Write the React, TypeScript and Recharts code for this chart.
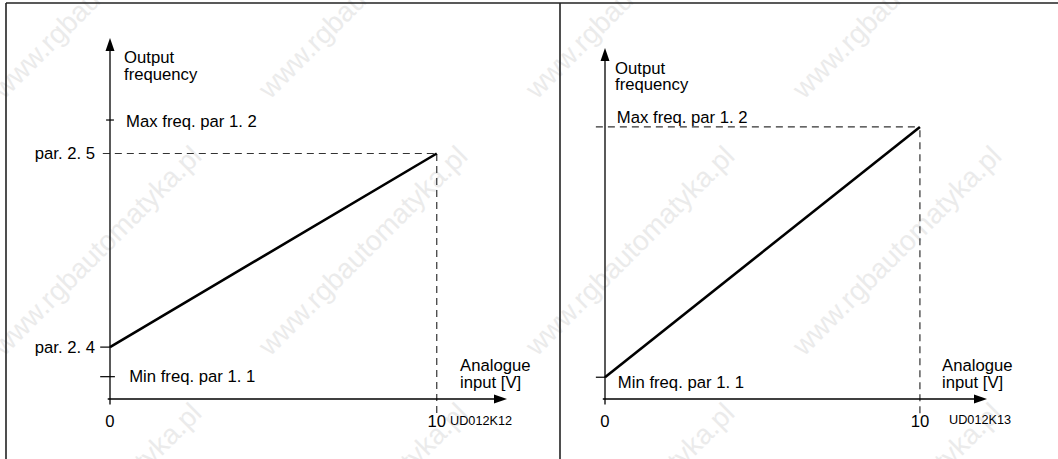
import { LineChart, Line, XAxis, YAxis, ReferenceLine } from 'recharts';

const FONT = '"Liberation Sans", Arial, Helvetica, sans-serif';

// frequency levels (Hz)
const minFreq = 4;
const maxFreq = 50;
const par24 = 9.3;
const par25 = 44;

// analogue input (V)
const inputTicks = [0, 10];
const inputFull = 10;

// left panel: scaled between par 2.4 and par 2.5
const leftLine = [
  { input: 0, freq: par24 },
  { input: inputFull, freq: par25 },
];
const leftFreqTicks = [par24, par25];
const leftFreqLabels = ['par. 2. 4', 'par. 2. 5'];

// right panel: default min..max
const rightLine = [
  { input: 0, freq: minFreq },
  { input: inputFull, freq: maxFreq },
];

const WATERMARK = 'www.rgbautomatyka.pl';
const wmCols = [4, 270, 537, 804];
const wmRows = [100, 357, 614];

const txt = (x: number, y: number, s: string, size = 16.7, anchor: 'start' | 'end' | 'middle' = 'start') => (
  <text
    x={x}
    y={y}
    fontSize={size}
    fontFamily={FONT}
    fill="#000"
    textAnchor={anchor}
    dominantBaseline="central"
  >
    {s}
  </text>
);

// axis line with a filled arrow head at the second end point
const Arrow = (props: any) => {
  const { x1, y1, x2, y2 } = props;
  const a = Math.atan2(y2 - y1, x2 - x1);
  const len = 13;
  const half = 4.5;
  const bx = x2 - len * Math.cos(a);
  const by = y2 - len * Math.sin(a);
  const px = -Math.sin(a) * half;
  const py = Math.cos(a) * half;
  return (
    <g>
      <line x1={x1} y1={y1} x2={bx} y2={by} stroke="#000" strokeWidth={1.3} />
      <polygon points={`${x2},${y2} ${bx + px},${by + py} ${bx - px},${by - py}`} fill="#000" />
    </g>
  );
};

const dash = { stroke: '#333', strokeWidth: 1.2, strokeDasharray: '7 5', ifOverflow: 'visible' as const };
const solid = { stroke: '#000', strokeWidth: 1.2, ifOverflow: 'visible' as const };
const tickStyle = { fill: '#000', fontSize: 16.7, fontFamily: FONT };

function LeftPanel() {
  const xEnd = 12.15;
  const yEnd = 64.7;
  return (
    <LineChart
      width={555}
      height={459}
      data={leftLine}
      margin={{ top: 38, right: 48, left: 0, bottom: 30 }}
    >
      <XAxis
        type="number"
        dataKey="input"
        domain={[0, xEnd]}
        ticks={inputTicks}
        axisLine={false}
        tickLine={false}
        tickMargin={10}
        height={30}
        tick={tickStyle}
      />
      <YAxis
        type="number"
        domain={[0, yEnd]}
        ticks={leftFreqTicks}
        tickFormatter={(v: number) => leftFreqLabels[leftFreqTicks.indexOf(v)] ?? ''}
        axisLine={false}
        tickLine={false}
        tickMargin={9}
        width={110}
        tick={tickStyle}
      />
      <ReferenceLine
        {...dash}
        segment={[{ x: -0.22, y: par25 }, { x: inputFull, y: par25 }]}
      />
      <ReferenceLine
        {...dash}
        segment={[{ x: inputFull, y: -2.5 }, { x: inputFull, y: par25 }]}
      />
      <ReferenceLine
        {...solid}
        segment={[{ x: -0.3, y: par24 }, { x: 0, y: par24 }]}
      />
      <ReferenceLine
        {...solid}
        segment={[{ x: -0.12, y: maxFreq }, { x: 0.12, y: maxFreq }]}
        label={({ viewBox }: any) => txt(viewBox.x + 20, viewBox.y + 1, 'Max freq. par 1. 2')}
      />
      <ReferenceLine
        {...solid}
        segment={[{ x: -0.3, y: minFreq }, { x: 0.15, y: minFreq }]}
        label={({ viewBox }: any) => txt(viewBox.x + 29, viewBox.y, 'Min freq. par 1. 1')}
      />
      <ReferenceLine
        ifOverflow="visible"
        segment={[{ x: 0, y: -1 }, { x: 0, y: yEnd }]}
        shape={Arrow}
        label={({ viewBox }: any) => (
          <g>
            {txt(viewBox.x + 14, viewBox.y + 19, 'Output')}
            {txt(viewBox.x + 14, viewBox.y + 36, 'frequency')}
          </g>
        )}
      />
      <ReferenceLine
        ifOverflow="visible"
        segment={[{ x: -0.07, y: 0 }, { x: xEnd, y: 0 }]}
        shape={Arrow}
        label={({ viewBox }: any) => (
          <g>
            {txt(viewBox.x + viewBox.width - 47, viewBox.y - 34, 'Analogue')}
            {txt(viewBox.x + viewBox.width - 47, viewBox.y - 17, 'input [V]')}
            {txt(viewBox.x + viewBox.width - 57, viewBox.y + 22, 'UD012K12', 12.7)}
          </g>
        )}
      />
      <Line
        type="linear"
        dataKey="freq"
        stroke="#000"
        strokeWidth={2.6}
        dot={false}
        isAnimationActive={false}
      />
    </LineChart>
  );
}

function RightPanel() {
  const xEnd = 12.13;
  const yEnd = 64.5;
  return (
    <LineChart
      width={529}
      height={459}
      data={rightLine}
      margin={{ top: 48, right: 71, left: 76, bottom: 30 }}
    >
      <XAxis
        type="number"
        dataKey="input"
        domain={[0, xEnd]}
        ticks={inputTicks}
        axisLine={false}
        tickLine={false}
        tickMargin={10}
        height={30}
        tick={tickStyle}
      />
      <YAxis type="number" domain={[0, yEnd]} hide />
      <ReferenceLine
        {...dash}
        segment={[{ x: -0.29, y: maxFreq }, { x: inputFull, y: maxFreq }]}
        label={({ viewBox }: any) => txt(viewBox.x + 21, viewBox.y - 9, 'Max freq. par 1. 2')}
      />
      <ReferenceLine
        {...dash}
        segment={[{ x: inputFull, y: -2.6 }, { x: inputFull, y: maxFreq }]}
      />
      <ReferenceLine
        {...solid}
        segment={[{ x: -0.29, y: minFreq }, { x: 0, y: minFreq }]}
        label={({ viewBox }: any) => txt(viewBox.x + 22, viewBox.y + 5, 'Min freq. par 1. 1')}
      />
      <ReferenceLine
        ifOverflow="visible"
        segment={[{ x: 0, y: -1 }, { x: 0, y: yEnd }]}
        shape={Arrow}
        label={({ viewBox }: any) => (
          <g>
            {txt(viewBox.x + 10, viewBox.y + 20, 'Output')}
            {txt(viewBox.x + 10, viewBox.y + 36, 'frequency')}
          </g>
        )}
      />
      <ReferenceLine
        ifOverflow="visible"
        segment={[{ x: -0.07, y: 0 }, { x: xEnd, y: 0 }]}
        shape={Arrow}
        label={({ viewBox }: any) => (
          <g>
            {txt(viewBox.x + viewBox.width - 45, viewBox.y - 34, 'Analogue')}
            {txt(viewBox.x + viewBox.width - 45, viewBox.y - 17, 'input [V]')}
            {txt(viewBox.x + viewBox.width - 38, viewBox.y + 21, 'UD012K13', 12.7)}
          </g>
        )}
      />
      <Line
        type="linear"
        dataKey="freq"
        stroke="#000"
        strokeWidth={2.6}
        dot={false}
        isAnimationActive={false}
      />
    </LineChart>
  );
}

export default function App() {
  return (
    <div style={{ position: 'absolute', left: 0, top: 0, width: 1058, height: 459, background: '#fff', overflow: 'hidden' }}>
      <svg width={1058} height={459} style={{ position: 'absolute', left: 0, top: 0 }}>
        {wmRows.map((y) =>
          wmCols.map((x) => (
            <text
              key={`${x}-${y}`}
              x={x}
              y={y}
              transform={`rotate(-45 ${x} ${y})`}
              fontSize={28}
              fontFamily={FONT}
              fill="#ebebeb"
            >
              {WATERMARK}
            </text>
          ))
        )}
        <line x1={6} y1={3} x2={1058} y2={3} stroke="#222" strokeWidth={1.6} />
        <line x1={6} y1={3} x2={6} y2={459} stroke="#222" strokeWidth={1.6} />
        <line x1={560} y1={3} x2={560} y2={459} stroke="#222" strokeWidth={1.6} />
      </svg>
      <div style={{ position: 'absolute', left: 0, top: 0 }}>
        <LeftPanel />
      </div>
      <div style={{ position: 'absolute', left: 529, top: 0 }}>
        <RightPanel />
      </div>
    </div>
  );
}
